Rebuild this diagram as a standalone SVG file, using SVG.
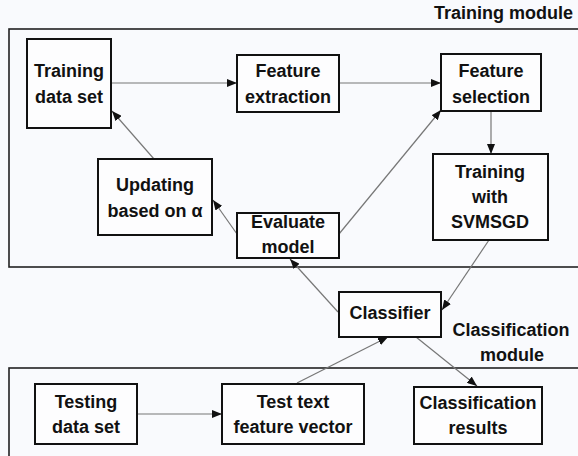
<svg xmlns="http://www.w3.org/2000/svg" width="578" height="456" viewBox="0 0 578 456">
<defs>
<marker id="ah" markerWidth="10" markerHeight="8" refX="10" refY="4" orient="auto" markerUnits="userSpaceOnUse">
<path d="M0,0 L10,4 L0,8 Z" fill="#111"/>
</marker>
<style>
.mod{fill:none;stroke:#222;stroke-width:1.6}
.box{fill:#fdfdfe;stroke:#111;stroke-width:2}
.t{font-family:"Liberation Sans",Arial,sans-serif;font-weight:bold;font-size:18px;fill:#111;text-anchor:middle;dominant-baseline:central}
.c{stroke:#777;stroke-width:1.2;fill:none;marker-end:url(#ah)}
</style>
</defs>
<rect width="578" height="456" fill="#f9fafd"/>
<g id="training-module">
<rect class="mod" x="9" y="29" width="575" height="238"/>
<text class="t" x="573" y="13" style="text-anchor:end">Training module</text>
</g>
<g id="classification-module">
<text class="t" x="511" y="330">Classification</text>
<text class="t" x="512" y="355">module</text>
</g>
<g id="testing-module">
<rect class="mod" x="9" y="368" width="575" height="100"/>
</g>
<g id="connectors">
<line class="c" x1="111" y1="83" x2="237" y2="83"/>
<line class="c" x1="339" y1="83" x2="441" y2="83"/>
<line class="c" x1="491" y1="111" x2="491" y2="154"/>
<line class="c" x1="154" y1="159" x2="112" y2="111"/>
<line class="c" x1="237" y1="234" x2="213" y2="200"/>
<line class="c" x1="339" y1="234" x2="441" y2="110"/>
<line class="c" x1="489" y1="240" x2="442" y2="310"/>
<line class="c" x1="338" y1="312" x2="290" y2="259"/>
<line class="c" x1="297" y1="383" x2="388" y2="337"/>
<line class="c" x1="416" y1="337" x2="477" y2="386"/>
<line class="c" x1="137" y1="414" x2="222" y2="414"/>
</g>
<g id="training-data-set">
<rect class="box" x="27" y="39" width="84" height="89"/>
<text class="t" x="69" y="71">Training</text>
<text class="t" x="69" y="97">data set</text>
</g>
<g id="feature-extraction">
<rect class="box" x="237" y="55" width="102" height="57"/>
<text class="t" x="288" y="71">Feature</text>
<text class="t" x="288" y="97">extraction</text>
</g>
<g id="feature-selection">
<rect class="box" x="441" y="54" width="100" height="57"/>
<text class="t" x="491" y="71">Feature</text>
<text class="t" x="491" y="97">selection</text>
</g>
<g id="training-svmsgd">
<rect class="box" x="433" y="154" width="115" height="86"/>
<text class="t" x="490" y="172">Training</text>
<text class="t" x="490" y="197">with</text>
<text class="t" x="490" y="222">SVMSGD</text>
</g>
<g id="updating">
<rect class="box" x="98" y="159" width="114" height="76"/>
<text class="t" x="155" y="185">Updating</text>
<text class="t" x="155" y="211">based on α</text>
</g>
<g id="evaluate-model">
<rect class="box" x="237" y="213" width="102" height="45"/>
<text class="t" x="288" y="222">Evaluate</text>
<text class="t" x="288" y="247">model</text>
</g>
<g id="classifier">
<rect class="box" x="339" y="292" width="102" height="45"/>
<text class="t" x="390" y="313">Classifier</text>
</g>
<g id="testing-data-set">
<rect class="box" x="35" y="384" width="102" height="60"/>
<text class="t" x="86" y="402">Testing</text>
<text class="t" x="86" y="427">data set</text>
</g>
<g id="test-text-feature-vector">
<rect class="box" x="222" y="384" width="142" height="60"/>
<text class="t" x="293" y="402">Test text</text>
<text class="t" x="293" y="427">feature vector</text>
</g>
<g id="classification-results">
<rect class="box" x="414" y="387" width="128" height="57"/>
<text class="t" x="478" y="403">Classification</text>
<text class="t" x="478" y="428">results</text>
</g>
</svg>
